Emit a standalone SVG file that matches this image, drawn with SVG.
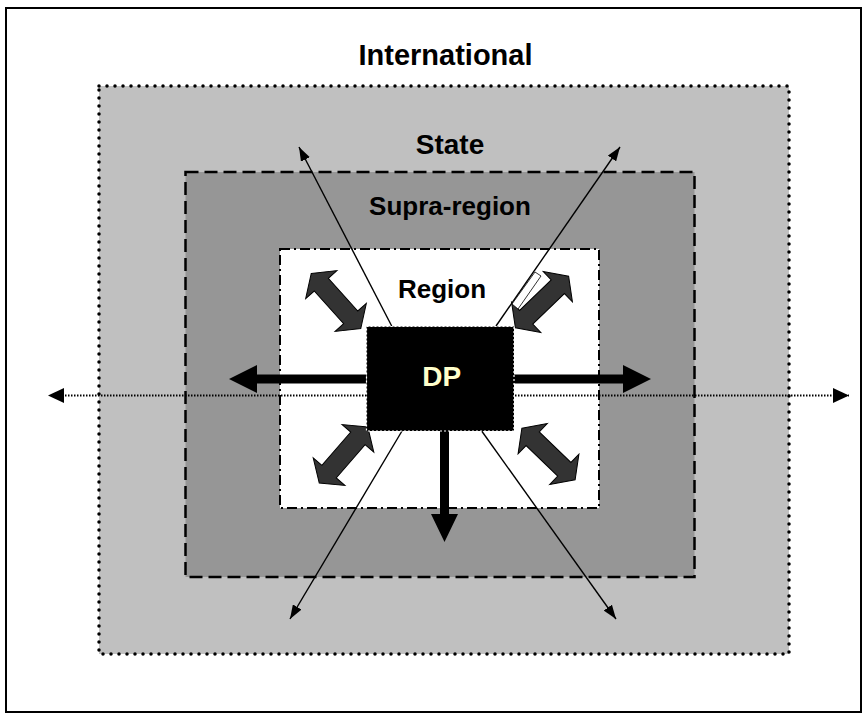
<svg xmlns="http://www.w3.org/2000/svg" width="868" height="720" viewBox="0 0 868 720">
  <style>
    .lbl { font-family: "Liberation Sans", Arial, sans-serif; font-weight: bold; text-anchor: middle; fill: #000; }
    .thin { stroke: #000; stroke-width: 1.4; fill: none; marker-end: url(#thinHead); }
    .dbl { fill: #333333; stroke: #000; stroke-width: 1; stroke-linejoin: miter; }
    .fat { fill: #000; stroke: none; }
  </style>
  <defs>
    <marker id="thinHead" viewBox="0 0 14 10" refX="14" refY="5" markerWidth="14" markerHeight="10" markerUnits="userSpaceOnUse" orient="auto">
      <path d="M0,0 L14,5 L0,10 z" fill="#000"/>
    </marker>
    <marker id="dotHead" viewBox="0 0 16 15" refX="16" refY="7.5" markerWidth="16" markerHeight="15" markerUnits="userSpaceOnUse" orient="auto">
      <path d="M0,0 L16,7.5 L0,15 z" fill="#000"/>
    </marker>
    <polygon id="dblShape" points="-37,0 -22,-21 -22,-9.5 22,-9.5 22,-21 37,0 22,21 22,9.5 -22,9.5 -22,21"/>
  </defs>

  <rect x="0" y="0" width="868" height="720" fill="#fff"/>
  <g id="frame">
    <rect x="6" y="8" width="855" height="704" fill="none" stroke="#000" stroke-width="2"/>
  </g>

  <g id="international">
    <rect x="99" y="86" width="690" height="568" fill="#C0C0C0" stroke="#000" stroke-width="3.5" stroke-linecap="round" stroke-dasharray="0 8"/>
    <text class="lbl" x="445.5" y="65" font-size="29">International</text>
    <text class="lbl" x="450" y="154" font-size="28">State</text>
  </g>

  <g id="state">
    <rect x="185.5" y="172" width="509" height="405" fill="#969696" stroke="#000" stroke-width="2.5" stroke-dasharray="13 6"/>
    <text class="lbl" x="450" y="215" font-size="26">Supra-region</text>
  </g>

  <g id="region">
    <rect x="280" y="249" width="319" height="259" fill="#fff" stroke="#000" stroke-width="2" stroke-dasharray="10 4 2 4"/>
    <text class="lbl" x="442" y="297.5" font-size="26">Region</text>
  </g>

  <g id="connectors">
    <line x1="62" y1="395.5" x2="849" y2="395.5" stroke="#000" stroke-width="1.8" stroke-dasharray="1.5 1.5" marker-end="url(#dotHead)"/>
    <line x1="440" y1="395.5" x2="48" y2="395.5" stroke="none" marker-end="url(#dotHead)"/>
    <line x1="391.7" y1="326" x2="299" y2="147" class="thin"/>
    <line x1="496" y1="326" x2="620" y2="147" class="thin"/>
    <line x1="402" y1="431" x2="290" y2="619" class="thin"/>
    <line x1="481.7" y1="431" x2="616" y2="619" class="thin"/>

    <polygon class="fat" points="366,374.5 257,374.5 257,365 229,379 257,393 257,383.5 366,383.5"/>
    <polygon class="fat" points="514,374.5 623,374.5 623,365 651,379 623,393 623,383.5 514,383.5"/>
    <polygon class="fat" points="440,431 440,514 431,514 444.5,542 458,514 449,514 449,431"/>

    <use href="#dblShape" class="dbl" transform="translate(336,301) rotate(48)"/>
    <use href="#dblShape" class="dbl" transform="translate(542,302) rotate(-44)"/>
    <polygon points="512,304 535,272 541,276 518,309" fill="#fff" stroke="#000" stroke-width="0.8"/>
    <use href="#dblShape" class="dbl" transform="translate(343.5,455) rotate(-49)"/>
    <use href="#dblShape" class="dbl" transform="translate(548.5,454) rotate(44)"/>
  </g>

  <g id="dp">
    <rect x="366.5" y="326.5" width="147.5" height="104.5" fill="#000" stroke="#fff" stroke-width="1.2" stroke-dasharray="2 2"/>
    <text class="lbl" x="441.7" y="386" font-size="28" style="fill:#FFFFCC">DP</text>
  </g>
</svg>
